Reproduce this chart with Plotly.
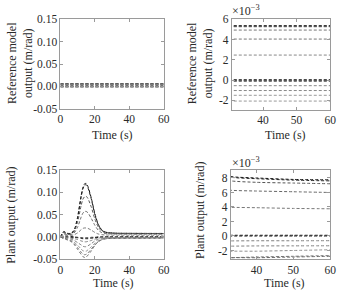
import numpy as np
import plotly.graph_objects as go

# ---------------- data ----------------
t_ref = [0, 60]
ref_values = [0.00538, 0.00533, 0.00528, 0.00495, 0.00406, 0.00248,
              0.00004, 0.0, -0.00004, -0.00013, -0.00054, -0.00102, -0.00149, -0.00206]
ref_colors = ["#111111", "#333333", "#555555", "#777777", "#777777", "#888888",
              "#111111", "#333333", "#555555", "#777777", "#888888", "#888888", "#999999", "#999999"]

t_plant = [0, 1, 2, 3, 4, 6, 8, 10, 12, 13, 14, 15, 16, 18, 20, 22, 24, 26, 28, 30, 33, 40, 50, 60]
plant_A1 = [0, 0.008, 0.012, 0.010, 0.008, 0.008, 0.015, 0.045, 0.092, 0.110, 0.119, 0.120, 0.113, 0.086, 0.052, 0.028, 0.016, 0.011, 0.0095, 0.0088, 0.0082, 0.0080, 0.0078, 0.00775]
plant_A2 = [0, 0.007, 0.011, 0.009, 0.007, 0.007, 0.014, 0.043, 0.089, 0.107, 0.116, 0.117, 0.110, 0.084, 0.050, 0.027, 0.015, 0.0105, 0.009, 0.0086, 0.0081, 0.0079, 0.0077, 0.0076]
plant_B = [0, 0.006, 0.009, 0.007, 0.006, 0.006, 0.012, 0.034, 0.070, 0.084, 0.090, 0.091, 0.086, 0.066, 0.040, 0.022, 0.013, 0.0095, 0.0085, 0.0080, 0.0076, 0.0074, 0.0073, 0.0072]
plant_C = [0, 0.004, 0.006, 0.005, 0.005, 0.005, 0.009, 0.022, 0.044, 0.053, 0.057, 0.057, 0.054, 0.041, 0.026, 0.015, 0.0095, 0.0075, 0.0068, 0.0065, 0.0063, 0.0062, 0.0061, 0.0060]
plant_D = [0, 0.002, 0.003, 0.003, 0.003, 0.003, 0.005, 0.009, 0.016, 0.019, 0.020, 0.020, 0.019, 0.015, 0.010, 0.0065, 0.0050, 0.0043, 0.0041, 0.0040, 0.00395, 0.0039, 0.0038, 0.00375]
plant_E1 = [0, -0.001, -0.001, -0.001, -0.001, -0.001, -0.001, -0.002, -0.003, -0.004, -0.004, -0.004, -0.004, -0.003, -0.002, -0.001, -0.0005, -0.0002, -0.0001, 0, 0, 0, 0, 0]
plant_E2 = [0, 0.001, 0.001, 0.001, 0.001, 0.001, 0.000, -0.001, -0.002, -0.002, -0.002, -0.002, -0.002, -0.001, -0.001, 0.0, 0.0001, 0.0001, 0.0001, 0.0001, 0.0001, 0.0001, 0.0001, 0.0001]
plant_F = [0, -0.001, -0.002, -0.002, -0.002, -0.003, -0.004, -0.006, -0.009, -0.010, -0.011, -0.011, -0.010, -0.008, -0.005, -0.003, -0.0015, -0.001, -0.0008, -0.0007, -0.00068, -0.00066, -0.00066, -0.00065]
plant_G = [0, -0.001, -0.002, -0.003, -0.003, -0.005, -0.008, -0.013, -0.018, -0.021, -0.022, -0.022, -0.020, -0.015, -0.009, -0.005, -0.003, -0.002, -0.0016, -0.0014, -0.0014, -0.00137, -0.00136, -0.00135]
plant_H = [0, -0.002, -0.003, -0.004, -0.005, -0.007, -0.012, -0.019, -0.027, -0.031, -0.032, -0.032, -0.029, -0.022, -0.014, -0.008, -0.0045, -0.003, -0.0024, -0.0022, -0.0021, -0.0021, -0.0020, -0.0019]
plant_I = [0, -0.002, -0.003, -0.004, -0.006, -0.009, -0.015, -0.024, -0.034, -0.038, -0.040, -0.039, -0.036, -0.027, -0.017, -0.010, -0.006, -0.004, -0.0033, -0.0031, -0.0030, -0.0029, -0.0028, -0.0027]
plant_J = [0, -0.002, -0.003, -0.005, -0.007, -0.010, -0.017, -0.028, -0.039, -0.044, -0.046, -0.045, -0.041, -0.031, -0.019, -0.011, -0.0065, -0.0045, -0.0036, -0.0032, -0.0030, -0.0030, -0.0029, -0.0028]
plant_series = [plant_A1, plant_A2, plant_B, plant_C, plant_D, plant_E1, plant_E2,
                plant_F, plant_G, plant_H, plant_I, plant_J]
plant_colors = ["#111111", "#222222", "#555555", "#666666", "#777777", "#111111", "#222222",
                "#808080", "#808080", "#909090", "#777777", "#666666"]

x_ticks_full = [0, 20, 40, 60]
x_ticks_zoom = [40, 50, 60]
y_ticks_full = [-0.05, 0.0, 0.05, 0.10, 0.15]
y_ticks_full_text = ["-0.05", "0.00", "0.05", "0.10", "0.15"]
y_ticks_ref_zoom = [-2, 0, 2, 4, 6]
y_ticks_ref_zoom_text = ["-2", "0", "2", "4", "6"]
y_ticks_plant_zoom = [-2, 0, 2, 4, 6, 8]
y_ticks_plant_zoom_text = ["-2", "0", "2", "4", "6", "8"]

xlabel = "Time (s)"
ylabel_ref = "Reference model<br>output (m/rad)"
ylabel_plant = "Plant output (m/rad)"
exp_label = "×10<sup>−3</sup>"

# ---------------- figure ----------------
W, H = 342, 293
FONT = "Liberation Serif"
DASH = "3px,2px"
TXT = "#2a2a2a"

fig = go.Figure()

def add(xa, ya, x, y, color, width=1.0):
    fig.add_trace(go.Scatter(x=x, y=y, mode="lines", xaxis=xa, yaxis=ya,
                             line=dict(color=color, width=width, dash=DASH, shape="spline", smoothing=0.6),
                             showlegend=False, hoverinfo="skip"))

for v, c in zip(ref_values, ref_colors):
    yv = [v, v]
    add("x", "y", t_ref, yv, c)
    add("x2", "y2", t_ref, list(np.array(yv) * 1000), c)

for s, c in zip(plant_series, plant_colors):
    add("x3", "y3", t_plant, s, c)
    add("x4", "y4", t_plant, list(np.array(s) * 1000), c)

def dx(a, b):
    return [a / W, b / W]

def dy(top, bottom):
    return [1 - bottom / H, 1 - top / H]

axis_common = dict(showline=True, linecolor="#9a9a9a", linewidth=1, mirror="ticks",
                   ticks="inside", ticklen=3, tickcolor="#9a9a9a", showgrid=False,
                   zeroline=False, tickfont=dict(family=FONT, size=11.5, color=TXT))

fig.update_layout(
    width=W, height=H, autosize=False,
    margin=dict(l=0, r=0, t=0, b=0),
    paper_bgcolor="white", plot_bgcolor="white",
    xaxis=dict(domain=dx(59, 165), anchor="y", range=[0, 60], tickvals=x_ticks_full, **axis_common),
    yaxis=dict(domain=dy(14, 107), anchor="x", range=[-0.05, 0.15], tickvals=y_ticks_full,
               ticktext=y_ticks_full_text, **axis_common),
    xaxis2=dict(domain=dx(235, 336), anchor="y2", range=[30.7, 60], tickvals=x_ticks_zoom, **axis_common),
    yaxis2=dict(domain=dy(14, 108), anchor="x2", range=[-2.9, 6], tickvals=y_ticks_ref_zoom,
                ticktext=y_ticks_ref_zoom_text, **axis_common),
    xaxis3=dict(domain=dx(59, 165), anchor="y3", range=[0, 60], tickvals=x_ticks_full, **axis_common),
    yaxis3=dict(domain=dy(171, 264), anchor="x3", range=[-0.05, 0.15], tickvals=y_ticks_full,
                ticktext=y_ticks_full_text, **axis_common),
    xaxis4=dict(domain=dx(234, 336), anchor="y4", range=[33, 60], tickvals=x_ticks_zoom, **axis_common),
    yaxis4=dict(domain=dy(171, 264), anchor="x4", range=[-3.2, 9.1], tickvals=y_ticks_plant_zoom,
                ticktext=y_ticks_plant_zoom_text, **axis_common),
)

def ann(text, x, y, angle=0, size=12):
    fig.add_annotation(text=text, x=x / W, y=1 - y / H, xref="paper", yref="paper",
                       showarrow=False, textangle=angle, xanchor="center", yanchor="middle",
                       font=dict(family=FONT, size=size, color=TXT))

ann(xlabel, 112, 134)
ann(xlabel, 290, 134)
ann(xlabel, 113, 289)
ann(xlabel, 289, 289)
ann(ylabel_ref, 17, 60, -90)
ann(ylabel_ref, 202, 60, -90)
ann(ylabel_plant, 8, 218, -90)
ann(ylabel_plant, 203, 213, -90)
ann(exp_label, 250, 5)
ann(exp_label, 250, 163)

fig.write_html("out.html")
